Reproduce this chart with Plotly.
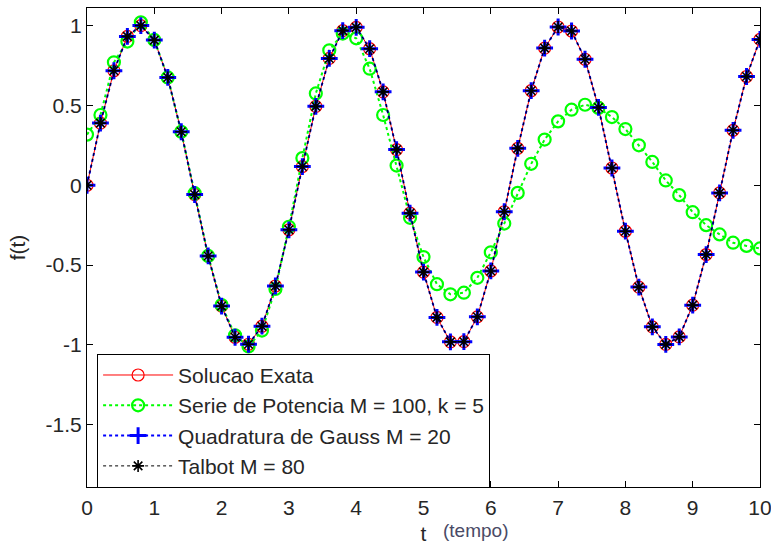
import plotly.graph_objects as go

t = [0.0, 0.2, 0.4, 0.6, 0.8, 1.0, 1.2, 1.4, 1.6, 1.8,
     2.0, 2.2, 2.4, 2.6, 2.8, 3.0, 3.2, 3.4, 3.6, 3.8,
     4.0, 4.2, 4.4, 4.6, 4.8, 5.0, 5.2, 5.4, 5.6, 5.8,
     6.0, 6.2, 6.4, 6.6, 6.8, 7.0, 7.2, 7.4, 7.6, 7.8,
     8.0, 8.2, 8.4, 8.6, 8.8, 9.0, 9.2, 9.4, 9.6, 9.8, 10.0]

exata = [0.000, 0.389, 0.717, 0.932, 1.000, 0.909, 0.675, 0.335, -0.058, -0.443,
         -0.757, -0.952, -0.996, -0.883, -0.631, -0.279, 0.117, 0.494, 0.794, 0.968,
         0.989, 0.855, 0.585, 0.223, -0.175, -0.544, -0.828, -0.981, -0.980, -0.824,
         -0.537, -0.166, 0.231, 0.592, 0.859, 0.991, 0.966, 0.789, 0.487, 0.108,
         -0.288, -0.638, -0.887, -0.997, -0.950, -0.751, -0.434, -0.048, 0.344, 0.681, 0.913]

serie = [0.317, 0.440, 0.770, 0.900, 1.020, 0.910, 0.675, 0.335, -0.050, -0.443,
         -0.750, -0.940, -1.010, -0.910, -0.650, -0.260, 0.170, 0.575, 0.845, 0.950,
         0.920, 0.730, 0.440, 0.123, -0.204, -0.450, -0.620, -0.683, -0.673, -0.580,
         -0.420, -0.240, -0.048, 0.134, 0.286, 0.400, 0.473, 0.504, 0.484, 0.427,
         0.352, 0.250, 0.146, 0.030, -0.062, -0.169, -0.250, -0.308, -0.360, -0.380, -0.396]

gauss = list(exata)
talbot = list(exata)

yticks = [-1.5, -1, -0.5, 0, 0.5, 1]
yticktext = ["-1.5", "-1", "-0.5", "0", "0.5", "1"]
xticks = [0, 1, 2, 3, 4, 5, 6, 7, 8, 9, 10]

FONT = "Liberation Sans, Arial, sans-serif"
FS = 21
TXT = "#262626"

fig = go.Figure()
fig.add_trace(go.Scatter(
    x=t, y=exata, mode="lines+markers", name="Solucao Exata",
    line=dict(color="red", width=1),
    marker=dict(symbol="circle-open", size=12, color="red", line=dict(width=1.2, color="red"))))
fig.add_trace(go.Scatter(
    x=t, y=serie, mode="lines+markers", name="Serie de Potencia M = 100, k = 5",
    line=dict(color="#00ff00", width=2, dash="dot"),
    marker=dict(symbol="circle-open", size=12, color="#00ff00", line=dict(width=2.2, color="#00ff00"))))
fig.add_trace(go.Scatter(
    x=t, y=gauss, mode="lines+markers", name="Quadratura de Gauss M = 20",
    line=dict(color="blue", width=2, dash="dot"),
    marker=dict(symbol="cross-thin-open", size=12, color="blue", line=dict(width=3, color="blue"))))
fig.add_trace(go.Scatter(
    x=t, y=talbot, mode="lines+markers", name="Talbot M = 80",
    line=dict(color="black", width=1, dash="dot"),
    marker=dict(symbol="asterisk-open", size=10, color="black", line=dict(width=1.6, color="black"))))

fig.update_layout(
    width=771, height=547,
    margin=dict(l=87, r=11, t=8, b=60, autoexpand=False),
    paper_bgcolor="white", plot_bgcolor="white",
    font=dict(family=FONT, size=FS, color=TXT),
    showlegend=True,
    legend=dict(
        x=0.015, y=0.278, xanchor="left", yanchor="top",
        bgcolor="white", bordercolor="black", borderwidth=1,
        font=dict(family=FONT, size=FS, color=TXT),
        itemwidth=70, tracegroupgap=0,
    ),
    xaxis=dict(
        range=[0, 10], tickvals=xticks, ticks="inside", ticklen=6,
        showline=True, linecolor="black", linewidth=1, mirror="ticks",
        showgrid=False, zeroline=False, tickcolor="black",
        ticklabelstandoff=2, ticklabeloverflow="allow", automargin=False,
        title=dict(text="t", font=dict(size=FS), standoff=8),
    ),
    yaxis=dict(
        range=[-1.89, 1.11], tickvals=yticks, ticktext=yticktext,
        ticks="inside", ticklen=6, automargin=False,
        showline=True, linecolor="black", linewidth=1, mirror="ticks",
        showgrid=False, zeroline=False, tickcolor="black",
        title=dict(text="f(t)", font=dict(size=FS), standoff=14),
    ),
    annotations=[dict(
        text="(tempo)", x=(476 - 87) / 673, y=(487 - 530) / 479,
        xref="paper", yref="paper", xanchor="center", yanchor="middle",
        showarrow=False, font=dict(family=FONT, size=19, color="#4a4a66"),
    )],
)

fig.write_html("out.html")
